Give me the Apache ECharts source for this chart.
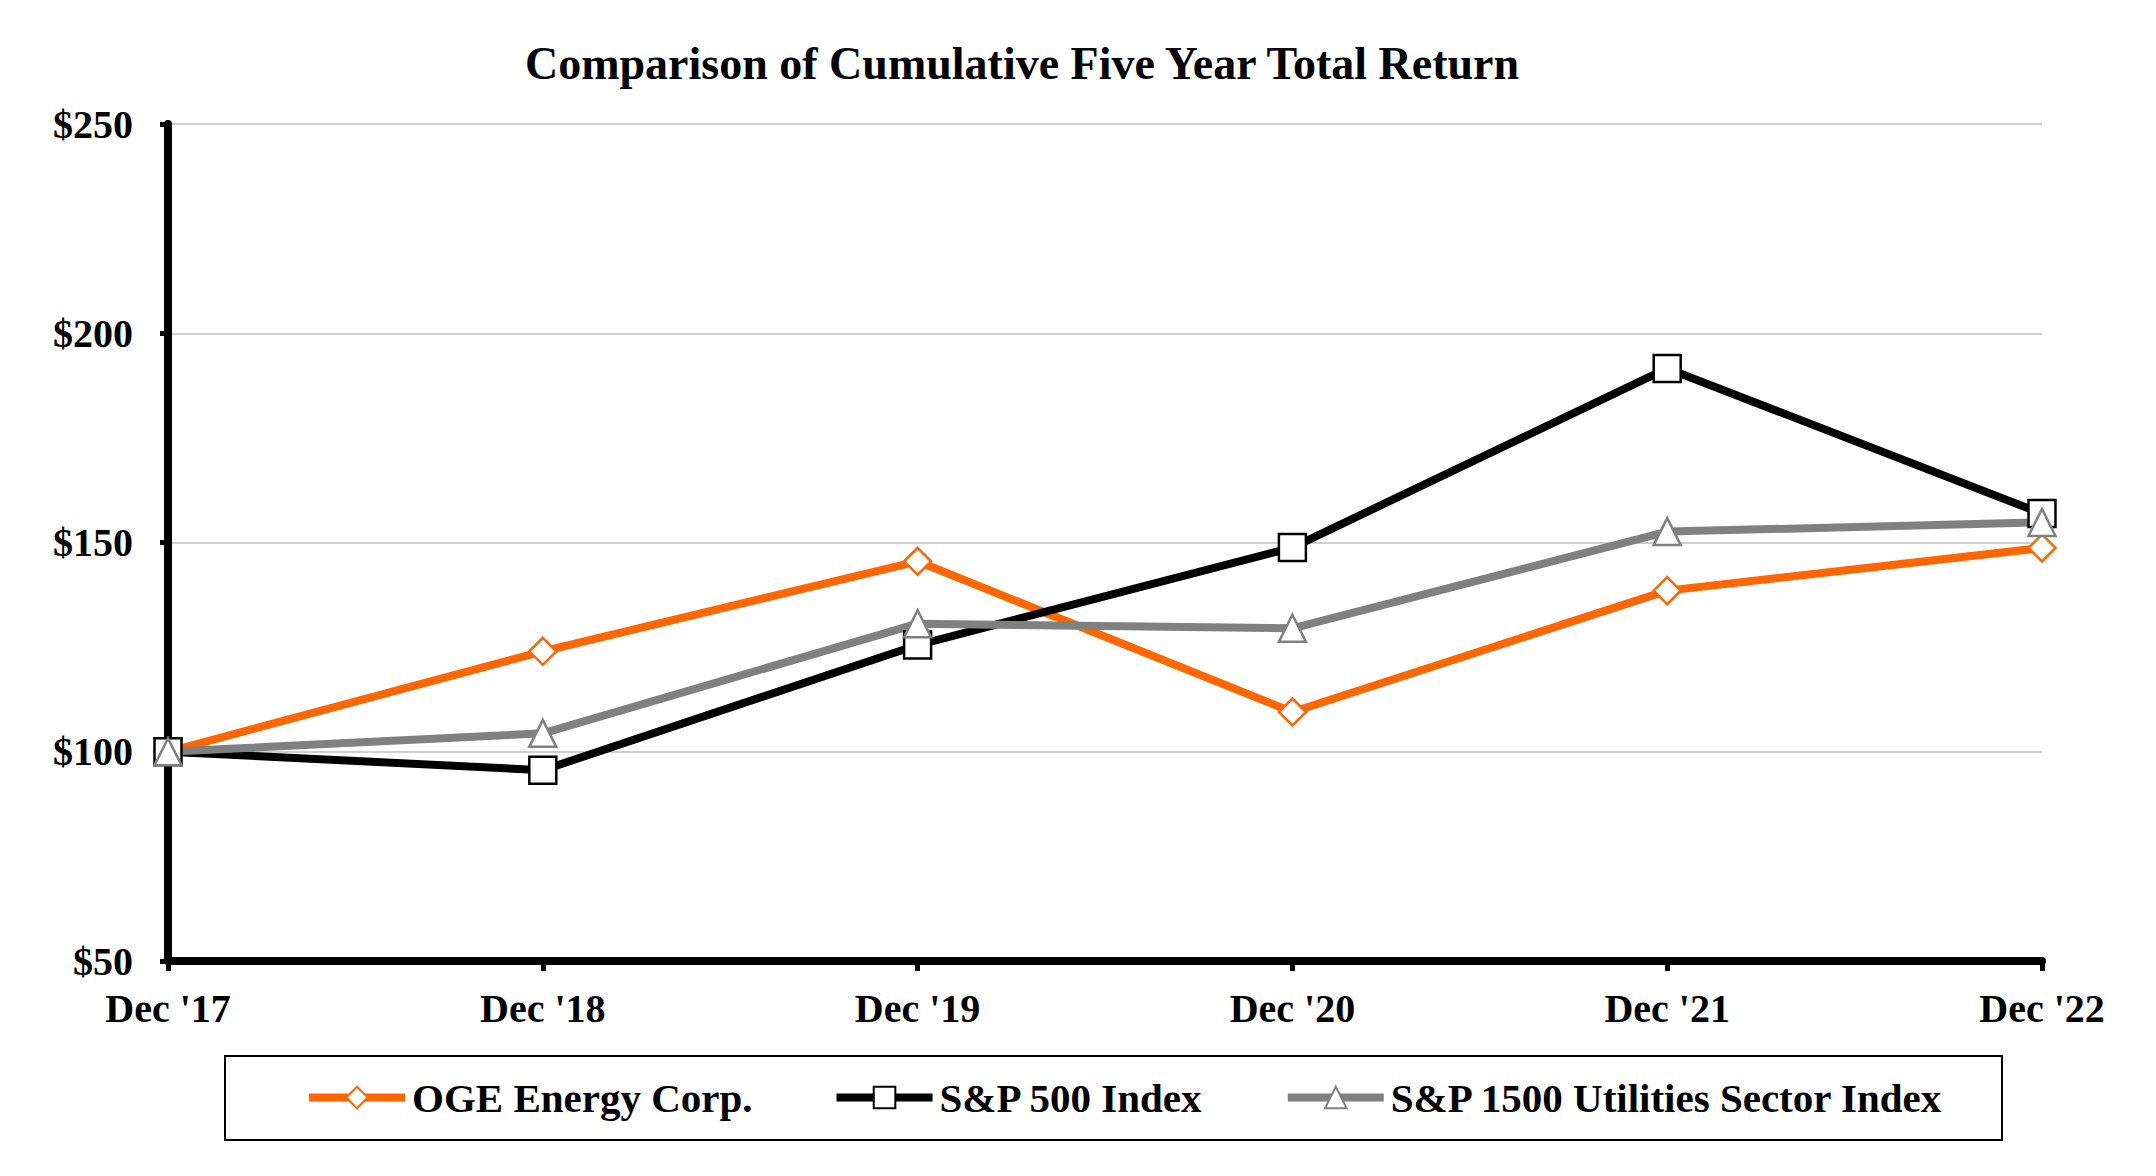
<!DOCTYPE html>
<html>
<head>
<meta charset="utf-8">
<script src="https://cdn.jsdelivr.net/npm/echarts@6/dist/echarts.min.js"></script>
<style>
html,body{margin:0;padding:0;background:#fff;}
#chart{width:2156px;height:1176px;}
</style>
</head>
<body>
<div id="chart"></div>
<script>
const titleText = "Comparison of Cumulative Five Year Total Return";
const categories = ["Dec '17", "Dec '18", "Dec '19", "Dec '20", "Dec '21", "Dec '22"];
const seriesNames = ["OGE Energy Corp.", "S&P 500 Index", "S&P 1500 Utilities Sector Index"];
const ogeValues = [100, 124.0, 145.5, 109.5, 138.5, 148.7];
const sp500Values = [100, 95.6, 125.5, 148.8, 191.6, 156.9];
const utilValues = [100, 104.4, 130.6, 129.5, 152.6, 154.8];
const yTicks = [50, 100, 150, 200, 250];

const FONT = "'Liberation Serif', 'Times New Roman', serif";
const chart = echarts.init(document.getElementById('chart'), null, {renderer: 'svg'});

function lineSeries(name, data, color, symbol) {
  return {
    name: name,
    type: 'line',
    data: data,
    symbol: symbol,
    symbolSize: 27,
    showAllSymbol: true,
    lineStyle: {color: color, width: 8},
    itemStyle: {color: '#ffffff', borderColor: color, borderWidth: 2.5},
    emphasis: {disabled: true},
    animation: false
  };
}

chart.setOption({
  animation: false,
  backgroundColor: '#ffffff',
  graphic: [
    {
      type: 'text',
      x: 1022, y: 40,
      style: {
        text: titleText,
        font: "bold 46px " + FONT,
        fill: '#000', align: 'center', verticalAlign: 'top'
      },
      silent: true
    },
    {
      type: 'rect',
      shape: {x: 225, y: 1056, width: 1777, height: 84},
      style: {fill: 'none', stroke: '#000', lineWidth: 2},
      silent: true,
      z: -1
    }
  ],
  grid: {left: 168, right: 114, top: 124, bottom: 215, containLabel: false},
  legend: {
    data: seriesNames,
    left: 305,
    top: 1077,
    itemWidth: 96,
    itemHeight: 27,
    itemGap: 80,
    padding: 0,
    selectedMode: false,
    lineStyle: {width: 8},
    textStyle: {fontFamily: FONT, fontWeight: 'bold', fontSize: 41, color: '#000', padding: [0, 0, 0, 2]}
  },
  xAxis: {
    type: 'category',
    data: categories,
    boundaryGap: false,
    axisLine: {lineStyle: {color: '#000', width: 8}},
    axisTick: {show: true, inside: false, length: 10, alignWithLabel: true, lineStyle: {color: '#000', width: 5}},
    axisLabel: {fontFamily: FONT, fontWeight: 'bold', fontSize: 40, color: '#000', margin: 27},
    splitLine: {show: false}
  },
  yAxis: {
    type: 'value',
    min: 50, max: 250, interval: 50,
    axisLine: {show: true, lineStyle: {color: '#000', width: 8}},
    axisTick: {show: true, length: 8, lineStyle: {color: '#000', width: 5}},
    axisLabel: {
      fontFamily: FONT, fontWeight: 'bold', fontSize: 40, color: '#000', margin: 35,
      formatter: function (v) { return yTicks.indexOf(v) >= 0 ? '$' + v : ''; }
    },
    splitLine: {show: true, lineStyle: {color: '#BFBFBF', width: 1.5}}
  },
  series: [
    lineSeries(seriesNames[0], ogeValues, '#FF6600', 'diamond'),
    lineSeries(seriesNames[1], sp500Values, '#000000', 'rect'),
    lineSeries(seriesNames[2], utilValues, '#808080', 'triangle')
  ]
});
</script>
</body>
</html>
